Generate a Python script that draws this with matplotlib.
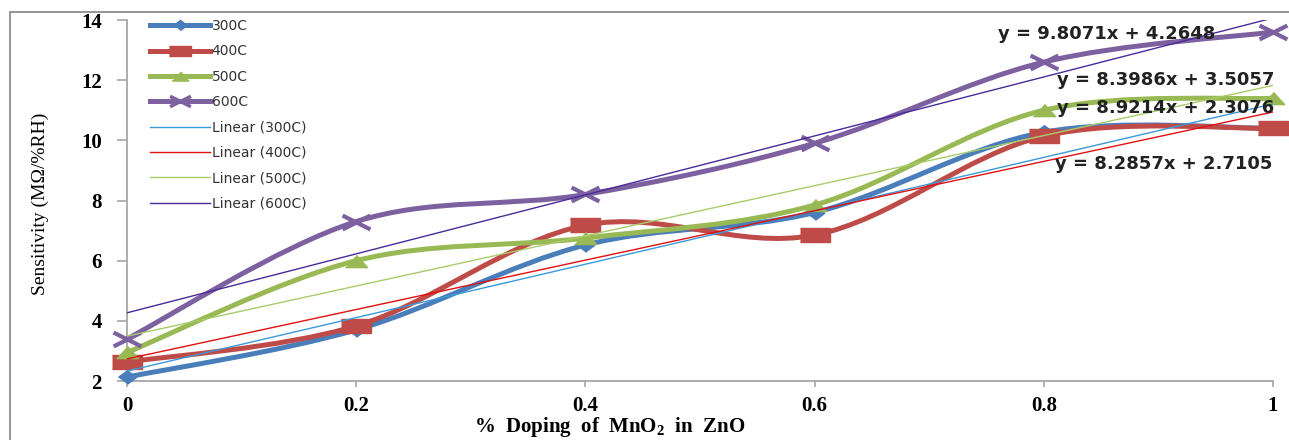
import numpy as np
import matplotlib
matplotlib.use('Agg')
import matplotlib.pyplot as plt
from matplotlib.path import Path
from matplotlib.patches import PathPatch, Rectangle
from matplotlib.lines import Line2D

# doping fraction of MnO2 and sensitivity per temperature
doping = [0, 0.2, 0.4, 0.6, 0.8, 1.0]
s300 = [2.13, 3.70, 6.52, 7.60, 10.27, 10.40]
s400 = [2.63, 3.83, 7.18, 6.85, 10.14, 10.40]
s500 = [2.95, 6.00, 6.75, 7.85, 11.00, 11.40]
s600 = [3.40, 7.30, 8.20, 9.90, 12.60, 13.60]

series_names = ['300C', '400C', '500C', '600C']
eq_labels = ['y = 9.8071x + 4.2648', 'y = 8.3986x + 3.5057',
             'y = 8.9214x + 2.3076', 'y = 8.2857x + 2.7105']
xticks = [0, 0.2, 0.4, 0.6, 0.8, 1]
xtick_labels = ['0', '0.2', '0.4', '0.6', '0.8', '1']
yticks = [2, 4, 6, 8, 10, 12, 14]

W, H = 1289, 440


def smooth_path(xs, ys):
    # excel style smoothed line: bezier segments through every point
    pts = np.column_stack([xs, ys]).astype(float)
    n = len(pts)
    verts = [pts[0]]
    codes = [Path.MOVETO]
    for i in range(n - 1):
        p0 = pts[max(i - 1, 0)]
        p1 = pts[i]
        p2 = pts[i + 1]
        p3 = pts[min(i + 2, n - 1)]
        verts += [p1 + (p2 - p0) / 6, p2 - (p3 - p1) / 6, p2]
        codes += [Path.CURVE4] * 3
    return Path(verts, codes)


# stretched markers like the scanned original
m_diamond = [(-1, 0), (0, 0.75), (1, 0), (0, -0.75)]
m_square = [(-1, -0.5), (1, -0.5), (1, 0.5), (-1, 0.5)]
m_triangle = [(-1, -0.55), (1, -0.55), (0, 0.55)]
m_cross = Path([(-1, -0.5), (1, 0.5), (-1, 0.5), (1, -0.5)],
               [Path.MOVETO, Path.LINETO, Path.MOVETO, Path.LINETO])

styles = [
    dict(color='#4a7ebb', marker=m_diamond, ms=13, trend='#3a9ad9'),
    dict(color='#be4b48', marker=m_square, ms=21, trend='#e01010'),
    dict(color='#98b954', marker=m_triangle, ms=16, trend='#a8cc6a'),
    dict(color='#7d60a0', marker=m_cross, ms=20, trend='#4a2a9a'),
]

plt.rcParams['mathtext.fontset'] = 'custom'
plt.rcParams['mathtext.rm'] = 'Liberation Serif:bold'
plt.rcParams['mathtext.bf'] = 'Liberation Serif:bold'

fig = plt.figure(figsize=(W / 100, H / 100), dpi=100)
ax = fig.add_axes([127 / W, 1 - 381 / H, (1273 - 127) / W, (381 - 20) / H])

# outer chart frame
fig.patches.append(Rectangle((10 / W, -0.2), 1.3, 1.2 - 12 / H, fill=False,
                             edgecolor='#8c8c8c', lw=1.3, transform=fig.transFigure))

all_series = [s300, s400, s500, s600]
handles = []
for name, vals, st in zip(series_names, all_series, styles):
    patch = PathPatch(smooth_path(doping, vals), facecolor='none',
                      edgecolor=st['color'], lw=3.6, zorder=3, clip_on=False)
    ax.add_patch(patch)
    mfc = 'none' if st['marker'] is m_cross else st['color']
    ax.plot(doping, vals, linestyle='none', marker=st['marker'], ms=st['ms'],
            mfc=mfc, mec=st['color'], mew=3 if mfc == 'none' else 1,
            zorder=4, clip_on=False)
    handles.append(Line2D([], [], color=st['color'], lw=3.6, marker=st['marker'],
                          ms=st['ms'] * 0.75, mfc=mfc, mec=st['color'],
                          mew=2.5 if mfc == 'none' else 1, label=name))

# linear trendlines
for name, vals, st in zip(series_names, all_series, styles):
    coef = np.polyfit(doping, vals, 1)
    ax.plot([0, 1], np.polyval(coef, [0, 1]), color=st['trend'], lw=1, zorder=5)
    handles.append(Line2D([], [], color=st['trend'], lw=1, label='Linear (%s)' % name))

# trendline equations
eq_pos = [(0.760, 13.53), (0.8115, 12.0), (0.8115, 11.07), (0.810, 9.21)]
for txt, (ex, ey) in zip(eq_labels, eq_pos):
    ax.text(ex, ey, txt, ha='left', va='center', fontsize=13, fontweight='bold',
            family='DejaVu Sans', color='#222222', zorder=6, clip_on=False)

ax.set_xlim(0, 1)
ax.set_ylim(2, 14)
ax.set_xticks(xticks)
ax.set_xticklabels(xtick_labels)
ax.set_yticks(yticks)

for sp in ['top', 'right']:
    ax.spines[sp].set_visible(False)
for sp in ['left', 'bottom']:
    ax.spines[sp].set_color('#a6a6a6')
    ax.spines[sp].set_linewidth(1.3)

ax.tick_params(axis='y', direction='out', length=7, width=1.2, color='#a6a6a6', pad=11)
ax.tick_params(axis='x', direction='out', length=4, width=1.2, color='#a6a6a6', pad=7)
for lab in ax.get_xticklabels() + ax.get_yticklabels():
    lab.set_family('Liberation Serif')
    lab.set_fontweight('bold')
    lab.set_fontsize(15)

ax.set_xlabel(r'%  Doping  of  MnO$_\mathbf{2}$  in  ZnO', family='Liberation Serif',
              fontweight='bold', fontsize=15, va='center')
ax.xaxis.set_label_coords(0.421, -0.127)
ax.set_ylabel('Sensitivity (M\u03a9/%RH)', family='Liberation Serif', fontsize=14,
              va='center')
ax.yaxis.set_label_coords(-0.076, 0.49)

leg = ax.legend(handles=handles, loc='upper left', frameon=False,
                bbox_to_anchor=(150 / W, 1 - 19 / H), bbox_transform=fig.transFigure,
                borderaxespad=0, borderpad=0, fontsize=10, handlelength=4.3,
                handletextpad=0.15, labelspacing=0.82, numpoints=1)
for t in leg.get_texts():
    t.set_color('#333333')

fig.savefig('out.png', dpi=100)
